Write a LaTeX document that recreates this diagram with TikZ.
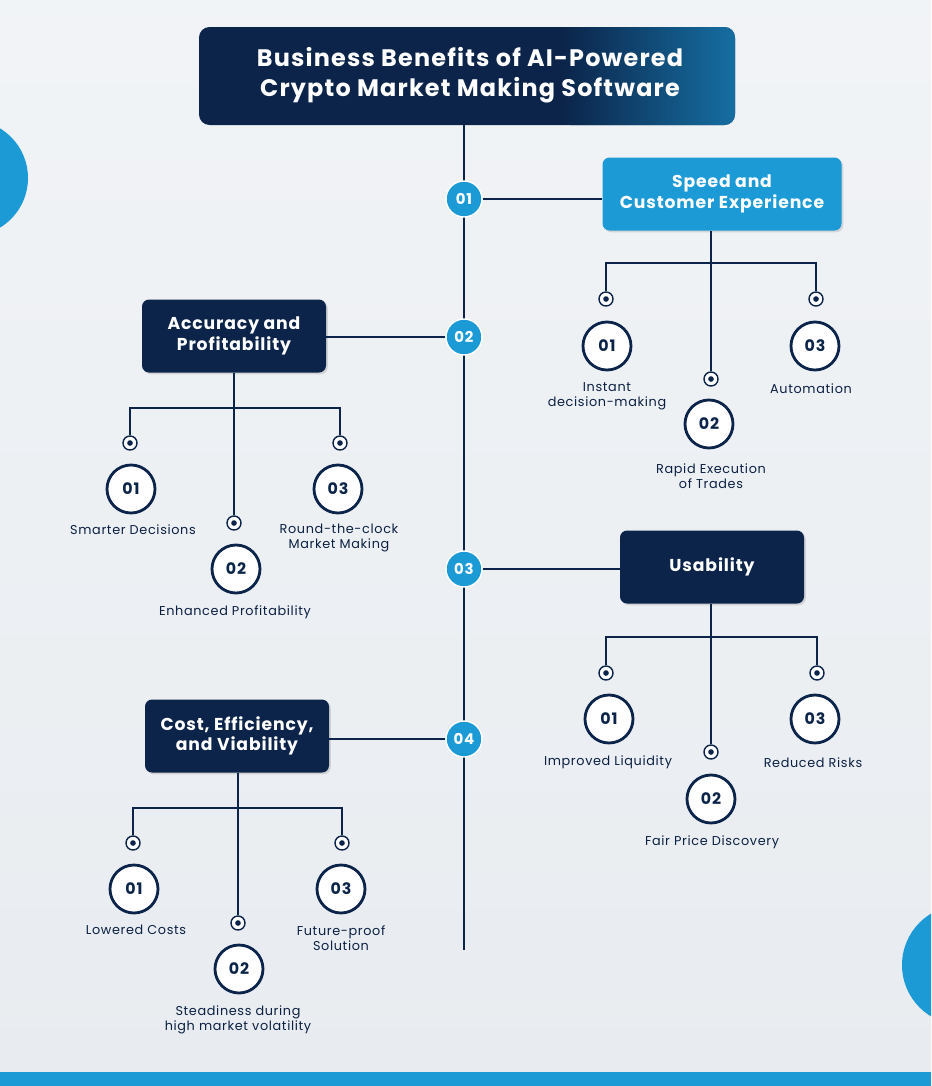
\documentclass[tikz,border=0pt]{standalone}
\usepackage{fontspec}
\setmainfont{Poppins}[LetterSpace=5]
\usetikzlibrary{shadows}
\definecolor{navy}{HTML}{0C2449}
\definecolor{cblue}{HTML}{1B9AD6}
\definecolor{bgc}{HTML}{E8ECF0}
\begin{document}
\begin{tikzpicture}[x=0.02cm,y=-0.02cm,
  box/.style={draw=none,rounded corners=4pt,minimum width=#1*0.02cm,minimum height=73*0.02cm,align=center,text=white,font=\bfseries\fontsize{9.8}{11.5}\selectfont,drop shadow={opacity=0.25,shadow xshift=1pt,shadow yshift=-1pt}},
  num/.style={circle,fill=cblue,draw=white,line width=0.8pt,minimum size=36*0.02cm,inner sep=0pt,text=white,font=\bfseries\fontsize{8.5}{10}\selectfont},
  sub/.style={circle,fill=white,draw=navy,line width=1.6pt,minimum size=48*0.02cm,inner sep=0pt,text=navy,font=\bfseries\fontsize{9}{10}\selectfont},
  dot/.style={circle,draw=navy,fill=white,line width=0.8pt,minimum size=14*0.02cm,inner sep=0pt,path picture={\fill[navy] (path picture bounding box.center) circle (1.6pt);}},
  lbl/.style={align=center,text=navy!90!black,font=\fontsize{7.3}{8.8}\selectfont},
  ln/.style={draw=navy,line width=0.9pt}]
\useasboundingbox (0,0) rectangle (931,1086);
\shade[top color=bgc!60!white,bottom color=bgc] (0,0) rectangle (931,1086);
\fill[cblue] (0,1072) rectangle (931,1086);
\begin{scope}
\clip (0,0) rectangle (931,1086);
\fill[cblue] (-30,178) circle (58*0.02cm);
\fill[cblue] (962,965) circle (60*0.02cm);
\end{scope}
% title
\fill[navy,rounded corners=6pt] (199,27) rectangle (735,125);
\shade[left color=navy,right color=cblue!70!navy,rounded corners=6pt,opacity=0.9] (560,27) rectangle (735,125);
\node[align=center,text=white,font=\bfseries\fontsize{13.6}{17}\selectfont] (title) at (470,75) {Business Benefits of AI-Powered\\Crypto Market Making Software};
\coordinate (top) at (464,125);
\coordinate (bot) at (464,950);
\draw[ln] (top) -- (bot);
% main boxes
\node[box=239,fill=cblue] (b1) at (722,194) {Speed and\\Customer Experience};
\node[box=184,fill=navy] (b2) at (234,336) {Accuracy and\\Profitability};
\node[box=184,fill=navy] (b3) at (712,567) {Usability};
\node[box=184,fill=navy] (b4) at (237,736) {Cost, Efficiency,\\and Viability};
\node[num] (n1) at (464,199) {01};
\node[num] (n2) at (464,337) {02};
\node[num] (n3) at (464,569) {03};
\node[num] (n4) at (464,739) {04};
\draw[ln] (n1) -- (b1.west|-n1);
\draw[ln] (n2) -- (b2.east|-n2);
\draw[ln] (n3) -- (b3.west|-n3);
\draw[ln] (n4) -- (b4.east|-n4);
% Speed
\node[dot] (s1d) at (606,299) {};
\node[dot] (s2d) at (711,379) {};
\node[dot] (s3d) at (816,299) {};
\draw[ln] (b1.south-|s2d) -- (s2d);
\draw[ln] (s1d) |- (711,263) -| (s3d);
\node[sub] (s1) at (607,346) {01};
\node[sub] (s2) at (709,424) {02};
\node[sub] (s3) at (815,346) {03};
\node[lbl] at (607,396) {Instant\\decision-making};
\node[lbl] at (711,476) {Rapid Execution\\of Trades};
\node[lbl] at (811,389) {Automation};
% Accuracy
\node[dot] (a1d) at (130,443) {};
\node[dot] (a2d) at (234,523) {};
\node[dot] (a3d) at (340,443) {};
\draw[ln] (b2.south-|a2d) -- (a2d);
\draw[ln] (a1d) |- (234,408) -| (a3d);
\node[sub] (a1) at (131,489) {01};
\node[sub] (a2) at (236,569) {02};
\node[sub] (a3) at (338,489) {03};
\node[lbl] at (133,530) {Smarter Decisions};
\node[lbl] at (235,612) {Enhanced Profitability};
\node[lbl] at (339,538) {Round-the-clock\\Market Making};
% Usability
\node[dot] (u1d) at (606,673) {};
\node[dot] (u2d) at (711,752) {};
\node[dot] (u3d) at (817,673) {};
\draw[ln] (b3.south-|u2d) -- (u2d);
\draw[ln] (u1d) |- (711,637) -| (u3d);
\node[sub] (u1) at (609,719) {01};
\node[sub] (u2) at (711,799) {02};
\node[sub] (u3) at (815,719) {03};
\node[lbl] at (608,762) {Improved Liquidity};
\node[lbl] at (712,842) {Fair Price Discovery};
\node[lbl] at (813,763) {Reduced Risks};
% Cost
\node[dot] (c1d) at (133,843) {};
\node[dot] (c2d) at (238,923) {};
\node[dot] (c3d) at (342,843) {};
\draw[ln] (b4.south-|c2d) -- (c2d);
\draw[ln] (c1d) |- (238,808) -| (c3d);
\node[sub] (c1) at (134,889) {01};
\node[sub] (c2) at (239,969) {02};
\node[sub] (c3) at (341,889) {03};
\node[lbl] at (136,930) {Lowered Costs};
\node[lbl] at (238,1020) {Steadiness during\\high market volatility};
\node[lbl] at (341,938) {Future-proof\\Solution};
\end{tikzpicture}
\end{document}
